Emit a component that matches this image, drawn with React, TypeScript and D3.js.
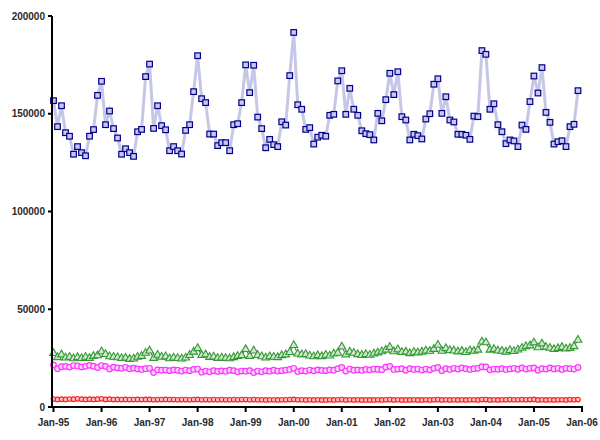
import * as d3 from "d3";

// monthly values, Jan-95 .. Dec-05
const seriesTotal = [
  156.7, 143.4, 154.1, 140.3, 138.5, 129.3, 133.2, 130.1, 128.5, 138.5, 141.9, 159.4,
  166.6, 144.4, 151.4, 142.4, 137.6, 129.3, 132.1, 130.1, 128.2, 140.8, 142.0, 169.0,
  175.4, 142.5, 154.1, 143.9, 141.8, 131.1, 133.2, 131.1, 129.4, 141.5, 144.4, 161.3,
  179.7, 157.7, 155.7, 139.6, 139.6, 133.7, 135.2, 135.2, 131.1, 144.4, 144.9, 155.7,
  175.0, 160.8, 174.8, 148.3, 142.4, 132.6, 136.9, 134.2, 133.2, 145.9, 144.2, 169.5,
  191.6, 154.6, 152.3, 142.0, 142.9, 134.5, 138.0, 139.0, 138.5, 149.2, 149.7, 166.8,
  172.0, 149.7, 163.0, 152.3, 149.2, 141.3, 139.8, 139.3, 136.6, 150.2, 146.4, 157.2,
  170.7, 159.8, 171.5, 148.5, 146.8, 136.6, 139.5, 138.8, 137.1, 147.3, 150.0, 165.1,
  167.9, 150.2, 158.7, 146.8, 145.8, 139.5, 139.5, 139.0, 136.9, 148.8, 148.5, 182.3,
  180.4, 152.3, 155.1, 144.4, 140.8, 134.7, 136.6, 136.1, 133.2, 144.2, 142.0, 156.2,
  169.3, 160.6, 173.6, 150.7, 145.6, 134.5, 135.7, 136.2, 133.2, 143.4, 144.6, 161.8,
];

const seriesGreen = [
  27.5, 25.4, 26.8, 25.2, 25.6, 24.8, 25.4, 24.9, 25.6, 25.0, 26.0, 26.3,
  28.4, 27.0, 25.8, 25.6, 25.3, 24.9, 25.1, 24.5, 24.7, 25.6, 26.0, 27.6,
  28.8, 25.0, 26.6, 25.6, 25.8, 24.8, 25.2, 24.9, 24.7, 25.2, 26.5, 28.2,
  30.0, 26.5, 26.8, 25.5, 25.7, 25.0, 25.2, 25.0, 24.8, 25.4, 26.0, 26.4,
  29.5, 26.0, 28.8, 26.5, 25.8, 25.2, 25.8, 25.6, 25.4, 26.4, 26.8, 28.0,
  31.6, 27.2, 26.8, 27.0, 26.2, 25.8, 26.4, 25.9, 26.6, 26.2, 27.2, 27.6,
  30.8, 26.8, 28.2, 27.6, 26.9, 26.5, 27.0, 26.6, 27.2, 27.8, 28.4, 29.2,
  30.6, 28.4, 29.4, 28.0, 28.2, 27.4, 28.1, 27.8, 28.2, 28.8, 28.6, 29.6,
  31.7, 28.6, 30.0, 29.0, 28.8, 28.3, 28.6, 28.0, 28.9, 28.6, 29.2, 33.4,
  33.0, 29.2, 29.6, 28.8, 28.6, 28.2, 29.0, 28.5, 29.3, 30.2, 31.0, 31.4,
  32.9, 30.4, 32.4, 30.6, 30.2, 29.5, 30.0, 30.6, 29.8, 30.1, 31.0, 34.3,
];

const seriesPink = [
  21.5, 19.6, 20.6, 20.8, 20.4, 21.2, 21.0, 20.5, 20.8, 21.3, 20.9, 20.2,
  21.2, 20.8, 19.5, 20.4, 20.0, 19.8, 20.3, 19.6, 19.9, 19.5, 19.2, 19.6,
  19.8, 17.6, 19.0, 18.8, 18.9, 18.6, 19.0, 18.8, 18.4, 18.9, 18.6, 19.2,
  19.4, 17.8, 18.4, 18.0, 18.6, 18.2, 18.5, 18.3, 18.8, 18.6, 18.0, 18.4,
  18.3, 18.6, 17.6, 18.4, 18.0, 18.6, 18.3, 18.8, 18.4, 18.6, 18.9, 19.2,
  19.8, 18.1, 18.6, 18.4, 18.9, 18.5, 19.0, 18.7, 18.6, 19.0, 18.8, 19.6,
  20.2, 18.4, 19.4, 18.8, 19.0, 18.7, 19.2, 19.0, 19.4, 19.3, 19.1, 20.4,
  20.8, 19.2, 19.4, 19.6, 18.8, 19.6, 19.2, 19.4, 18.9, 19.4, 19.0, 19.8,
  20.2, 18.6, 19.6, 19.2, 19.8, 19.4, 20.0, 19.6, 19.2, 19.6, 19.8, 20.6,
  20.5, 19.0, 19.4, 19.3, 19.6, 19.2, 19.5, 19.8, 19.3, 20.0, 19.4, 19.8,
  20.0, 18.8, 19.6, 19.4, 20.0, 19.5, 19.8, 19.2, 19.8, 19.6, 19.4, 20.2,
];

const seriesRed = [
  4.1, 3.9, 4.0, 3.9, 4.1, 4.0, 4.2, 4.0, 3.9, 4.0, 3.9, 4.0,
  4.2, 3.9, 4.0, 3.8, 3.9, 3.8, 3.9, 3.8, 3.8, 3.9, 3.8, 3.9,
  3.9, 3.7, 3.8, 3.8, 3.9, 3.8, 3.8, 3.7, 3.8, 3.8, 3.7, 3.8,
  3.9, 3.7, 3.8, 3.7, 3.8, 3.7, 3.8, 3.7, 3.7, 3.8, 3.7, 3.8,
  3.8, 3.7, 3.8, 3.7, 3.7, 3.6, 3.7, 3.7, 3.6, 3.7, 3.7, 3.8,
  3.9, 3.7, 3.7, 3.6, 3.7, 3.6, 3.7, 3.6, 3.6, 3.7, 3.6, 3.7,
  3.8, 3.6, 3.7, 3.6, 3.7, 3.6, 3.6, 3.6, 3.6, 3.7, 3.6, 3.7,
  3.8, 3.6, 3.7, 3.6, 3.6, 3.6, 3.7, 3.6, 3.6, 3.7, 3.6, 3.7,
  3.8, 3.6, 3.7, 3.6, 3.7, 3.6, 3.7, 3.6, 3.7, 3.7, 3.6, 3.8,
  3.8, 3.6, 3.7, 3.6, 3.7, 3.7, 3.8, 3.7, 3.7, 3.8, 3.7, 3.8,
  3.9, 3.6, 3.7, 3.6, 3.7, 3.6, 3.7, 3.7, 3.6, 3.8, 3.7, 3.8,
];

const xLabels = ["Jan-95", "Jan-96", "Jan-97", "Jan-98", "Jan-99", "Jan-00", "Jan-01", "Jan-02", "Jan-03", "Jan-04", "Jan-05", "Jan-06"];
const yTicks = [0, 50000, 100000, 150000, 200000];

const width = 600;
const height = 440;
const margin = { top: 16, right: 18, bottom: 33, left: 53.5 };

const x = d3.scaleLinear().domain([0, 132]).range([margin.left, width - margin.right]);
const y = d3.scaleLinear().domain([0, 200000]).range([height - margin.bottom, margin.top]);

const line = d3
  .line<number>()
  .x((_, i) => x(i))
  .y((d) => y(d * 1000));

const font = "'Liberation Sans', Arial, sans-serif";

export default function App() {
  const axisX = 52;
  const axisY = y(0);
  const tri = d3.symbol().type(d3.symbolTriangle).size(26)();

  return (
    <svg width={width} height={height} style={{ position: "absolute", left: 0, top: 0, background: "#fff" }}>
      {/* lines */}
      <path d={line(seriesTotal) || ""} fill="none" stroke="#c6c6e8" strokeWidth={3} />
      <path d={line(seriesGreen) || ""} fill="none" stroke="#2f8a2f" strokeWidth={1} />
      <path d={line(seriesPink) || ""} fill="none" stroke="#ff9cff" strokeWidth={1.2} />
      <path d={line(seriesRed) || ""} fill="none" stroke="#ff8080" strokeWidth={1} />

      {/* markers */}
      {seriesRed.map((d, i) => (
        <circle key={"r" + i} cx={x(i)} cy={y(d * 1000)} r={2.3} fill="#ffc0c0" stroke="#ff2020" strokeWidth={1.1} />
      ))}
      {seriesPink.map((d, i) => (
        <circle key={"p" + i} cx={x(i)} cy={y(d * 1000)} r={2.8} fill="#ffd8ff" stroke="#ff33ff" strokeWidth={1.2} />
      ))}
      {seriesGreen.map((d, i) => (
        <path key={"g" + i} d={tri || ""} transform={`translate(${x(i)},${y(d * 1000)})`} fill="#cfe8cf" stroke="#339933" strokeWidth={1.1} />
      ))}
      {seriesTotal.map((d, i) => (
        <rect key={"b" + i} x={x(i) - 2.8} y={y(d * 1000) - 2.8} width={5.6} height={5.6} fill="#c8c8f0" stroke="#000088" strokeWidth={1.2} />
      ))}

      {/* y axis */}
      <line x1={axisX} x2={axisX} y1={y(200000)} y2={axisY + 1} stroke="#000" strokeWidth={2} />
      {yTicks.map((t) => (
        <g key={t}>
          <line x1={axisX - 4} x2={axisX} y1={y(t)} y2={y(t)} stroke="#000" strokeWidth={2} />
          <text x={axisX - 7} y={y(t)} dy="0.35em" textAnchor="end" fontFamily={font} fontWeight="bold" fontSize={10} fill="#2a2a2a">
            {t}
          </text>
        </g>
      ))}

      {/* x axis */}
      <line x1={axisX - 1} x2={x(132) + 1} y1={axisY} y2={axisY} stroke="#000" strokeWidth={2} />
      {xLabels.map((lab, k) => (
        <g key={lab}>
          <line x1={x(k * 12)} x2={x(k * 12)} y1={axisY} y2={axisY + 5} stroke="#000" strokeWidth={2} />
          <text x={x(k * 12)} y={axisY + 19} textAnchor="middle" fontFamily={font} fontWeight="bold" fontSize={10} fill="#2a2a2a">
            {lab}
          </text>
        </g>
      ))}
    </svg>
  );
}
